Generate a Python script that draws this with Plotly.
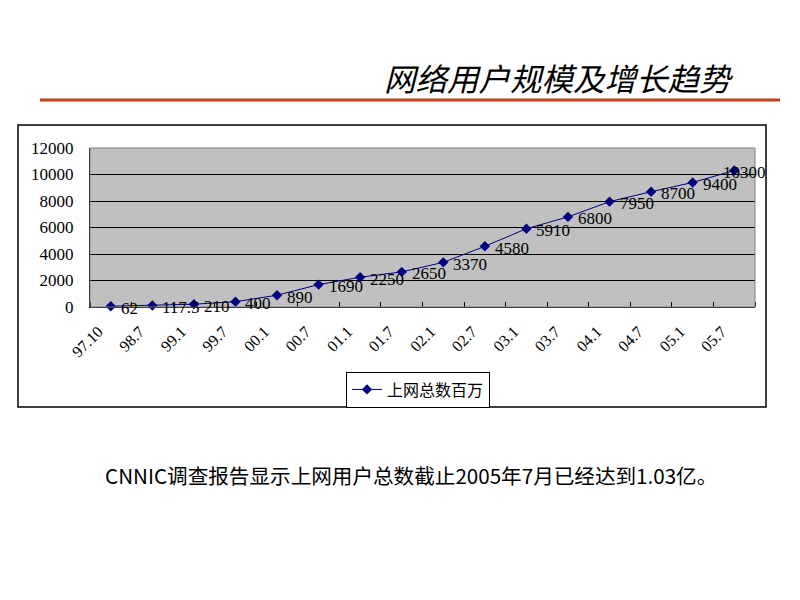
import plotly.graph_objects as go

categories = ["97.10", "98.7", "99.1", "99.7", "00.1", "00.7", "01.1", "01.7",
              "02.1", "02.7", "03.1", "03.7", "04.1", "04.7", "05.1", "05.7"]
users = [62, 117.5, 210, 400, 890, 1690, 2250, 2650, 3370, 4580, 5910, 6800,
         7950, 8700, 9400, 10300]
labels = ["62", "117.5", "210", "400", "890", "1690", "2250", "2650", "3370",
          "4580", "5910", "6800", "7950", "8700", "9400", "10300"]
series_name = "上网总数百万"
title_text = "网络用户规模及增长趋势"
note_text = "CNNIC调查报告显示上网用户总数截止2005年7月已经达到1.03亿。"

OFF = 8  # page body margin
W, H = 800 - OFF, 600 - OFF
# plot area in page pixels: x 90..755, y 148..307
L = 90 - OFF
R = W - (755 - OFF)
T = 148 - OFF
B = H - (307 - OFF)
PW = W - L - R
PH = H - T - B


def px(x):
    return (x - OFF - L) / PW


def py(y):
    return (H - B - (y - OFF)) / PH


serif = "Liberation Serif, Noto Serif CJK SC, serif"
cjk = "Noto Sans CJK SC, sans-serif"

n = len(categories)
idx = list(range(n))  # category positions

fig = go.Figure()
fig.add_trace(go.Scatter(
    x=idx, y=users, mode="lines+markers",
    name=series_name,
    customdata=categories,
    line=dict(color="#000080", width=1),
    marker=dict(symbol="diamond", size=8, color="#000080"),
    cliponaxis=False,
))

# data labels (to the right of each point; the last one pulled inside)
for i, (v, t) in enumerate(zip(users, labels)):
    last = i == n - 1
    fig.add_annotation(
        x=i, y=v, xref="x", yref="y", text=t, showarrow=False,
        xanchor="left", yanchor="middle",
        xshift=-13 if last else 8, yshift=-2,
        font=dict(family=serif, size=17, color="black"),
    )

fig.update_layout(
    width=W, height=H,
    margin=dict(l=L, r=R, t=T, b=B, pad=0),
    paper_bgcolor="white",
    plot_bgcolor="#C0C0C0",
    showlegend=True,
    legend=dict(
        x=px(346), y=py(389.5), xanchor="left", yanchor="middle",
        bgcolor="white", bordercolor="black", borderwidth=1,
        font=dict(family=cjk, size=16, color="black"),
        itemwidth=30, tracegroupgap=0,
    ),
    xaxis=dict(
        range=[-0.5, n - 0.5],
        tickmode="array",
        tickvals=[i - 0.3 for i in idx],
        ticktext=categories,
        showgrid=False, showline=True, linecolor="black", linewidth=1,
        zeroline=False, ticks="",
        tickangle=-45, ticklabelstandoff=8,
        tickfont=dict(family=serif, size=16, color="black"),
        minor=dict(tickmode="array",
                   tickvals=[i - 0.5 for i in range(n + 1)],
                   ticks="inside", ticklen=5, tickcolor="black",
                   showgrid=False),
    ),
    yaxis=dict(
        range=[0, 12000], dtick=2000, tickformat="d",
        showgrid=True, gridcolor="black", gridwidth=1,
        showline=True, linecolor="black", linewidth=1,
        ticks="", zeroline=False, ticklabelstandoff=12,
        tickfont=dict(family=serif, size=17, color="black"),
    ),
    font=dict(family=cjk),
)

# outer chart box
fig.add_shape(type="rect", xref="paper", yref="paper",
              x0=px(18), x1=px(766), y0=py(407), y1=py(125),
              line=dict(color="black", width=1.5), layer="below")
# plot-area border (gray)
fig.add_shape(type="rect", xref="paper", yref="paper",
              x0=0, x1=1, y0=0, y1=1,
              line=dict(color="#808080", width=1))
# title underline
fig.add_shape(type="line", xref="paper", yref="paper",
              x0=px(40), x1=px(780), y0=py(100), y1=py(100),
              line=dict(color="#C0401A", width=3))

fig.add_annotation(
    text=title_text, xref="paper", yref="paper",
    x=px(736), y=py(77), xanchor="right", yanchor="middle",
    showarrow=False,
    font=dict(family=cjk, size=31.5, color="black", style="italic"),
)
fig.add_annotation(
    text=note_text, xref="paper", yref="paper",
    x=px(411), y=py(475), xanchor="center", yanchor="middle",
    showarrow=False,
    font=dict(family=cjk, size=20.6, color="black"),
)

fig.write_html("out.html")
